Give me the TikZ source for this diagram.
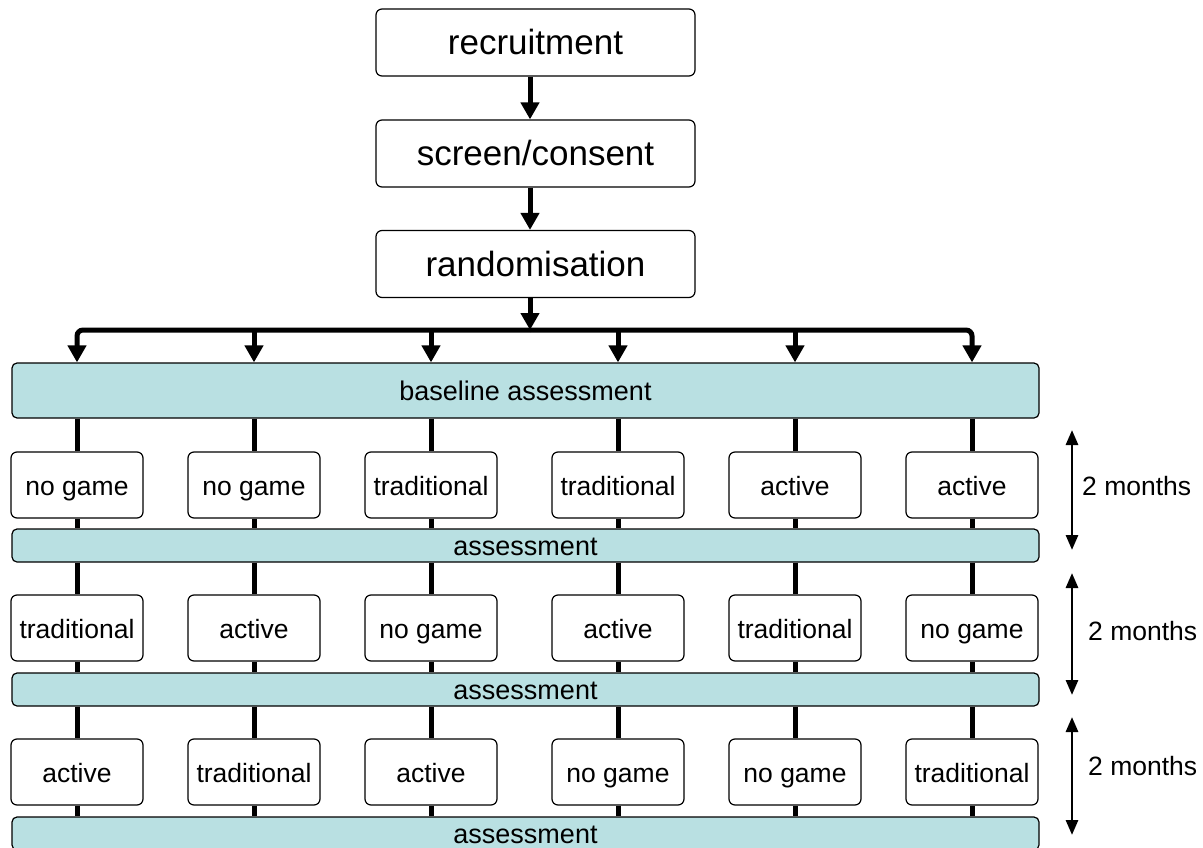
\documentclass[tikz,border=0pt]{standalone}
\usepackage{fontspec}
\setmainfont{Liberation Sans}
\usetikzlibrary{arrows.meta}
\definecolor{assesscol}{RGB}{185,224,226}
\begin{document}
\begin{tikzpicture}[x=1pt, y=-1pt]
\tikzstyle{block} = [draw,rectangle,rounded corners=6pt,line width=1.2pt,fill=white,inner sep=0pt,minimum width=319pt,minimum height=67pt,text height=30pt,text depth=5pt,font=\fontsize{35}{40}\selectfont]
\tikzstyle{arm} = [draw,rectangle,rounded corners=6pt,line width=1.2pt,fill=white,inner sep=0pt,minimum width=132pt,minimum height=66pt,text height=25.5pt,text depth=5.5pt,font=\fontsize{26.5}{30}\selectfont]
\tikzstyle{assess} = [draw,rectangle,rounded corners=5pt,line width=1.2pt,fill=assesscol,inner sep=0pt,minimum width=1027pt,text height=24.5pt,text depth=5.5pt,font=\fontsize{27}{30}\selectfont]
\tikzstyle{connector} = [-{Triangle[width=18pt,length=17pt]},line width=5pt]
\tikzstyle{bus} = [line width=5pt]
\tikzstyle{span} = [{Triangle[width=12pt,length=15pt]}-{Triangle[width=12pt,length=15pt]},line width=2.8pt]
\tikzstyle{timetext} = [anchor=west,inner sep=0pt,font=\fontsize{26.5}{30}\selectfont]
\useasboundingbox (0,0) rectangle (1203,848);

\node[block] (rec) at (535.5,42.5) {recruitment};
\node[block] (scr) at (535.5,153.5) {screen/consent};
\node[block] (rnd) at (535.5,264) {randomisation};
\coordinate (split) at (530,330);

\node[assess,minimum height=55pt] (base) at (525.5,390.5) {baseline assessment};
\node[assess,minimum height=33pt] (as1) at (525.5,545.5) {assessment};
\node[assess,minimum height=33pt] (as2) at (525.5,689.5) {assessment};
\node[assess,minimum height=33pt] (as3) at (525.5,833.5) {assessment};

\draw [connector] (rec.south -| split) -- (scr.north -| split);
\draw [connector] (scr.south -| split) -- (rnd.north -| split);
\draw [connector] (rnd.south -| split) -- (split);

% three periods, six sequences
\foreach \x/\i/\pa/\pb/\pc in {77/1/no game/traditional/active, 254/2/no game/active/traditional, 431/3/traditional/no game/active, 618/4/traditional/active/no game, 795/5/active/traditional/no game, 972/6/active/no game/traditional}{
  \coordinate (top\i) at (\x,330);
  \node[arm] (pa\i) at (\x,485) {\pa};
  \node[arm] (pb\i) at (\x,628) {\pb};
  \node[arm] (pc\i) at (\x,772) {\pc};
  \draw [bus] (base.south -| pa\i) -- (pa\i.north);
  \draw [bus] (pa\i.south) -- (as1.north -| pa\i);
  \draw [bus] (as1.south -| pb\i) -- (pb\i.north);
  \draw [bus] (pb\i.south) -- (as2.north -| pb\i);
  \draw [bus] (as2.south -| pc\i) -- (pc\i.north);
  \draw [bus] (pc\i.south) -- (as3.north -| pc\i);
}

\draw [connector,rounded corners=6pt] (split) -| (base.north -| top1);
\draw [connector,rounded corners=6pt] (split) -| (base.north -| top6);
\foreach \i in {2,...,5}
  \draw [connector] (top\i) -- (base.north -| top\i);

% time scale
\coordinate (m1a) at (1072,430);
\coordinate (m1b) at (1072,550);
\coordinate (m2a) at (1072,573);
\coordinate (m2b) at (1072,695);
\coordinate (m3a) at (1072,717);
\coordinate (m3b) at (1072,835);
\draw [span] (m1a) -- (m1b);
\draw [span] (m2a) -- (m2b);
\draw [span] (m3a) -- (m3b);
\node[timetext] (mo1) at (1082,486) {2 months};
\node[timetext] (mo2) at (1088,631) {2 months};
\node[timetext] (mo3) at (1088,766) {2 months};
\end{tikzpicture}
\end{document}
